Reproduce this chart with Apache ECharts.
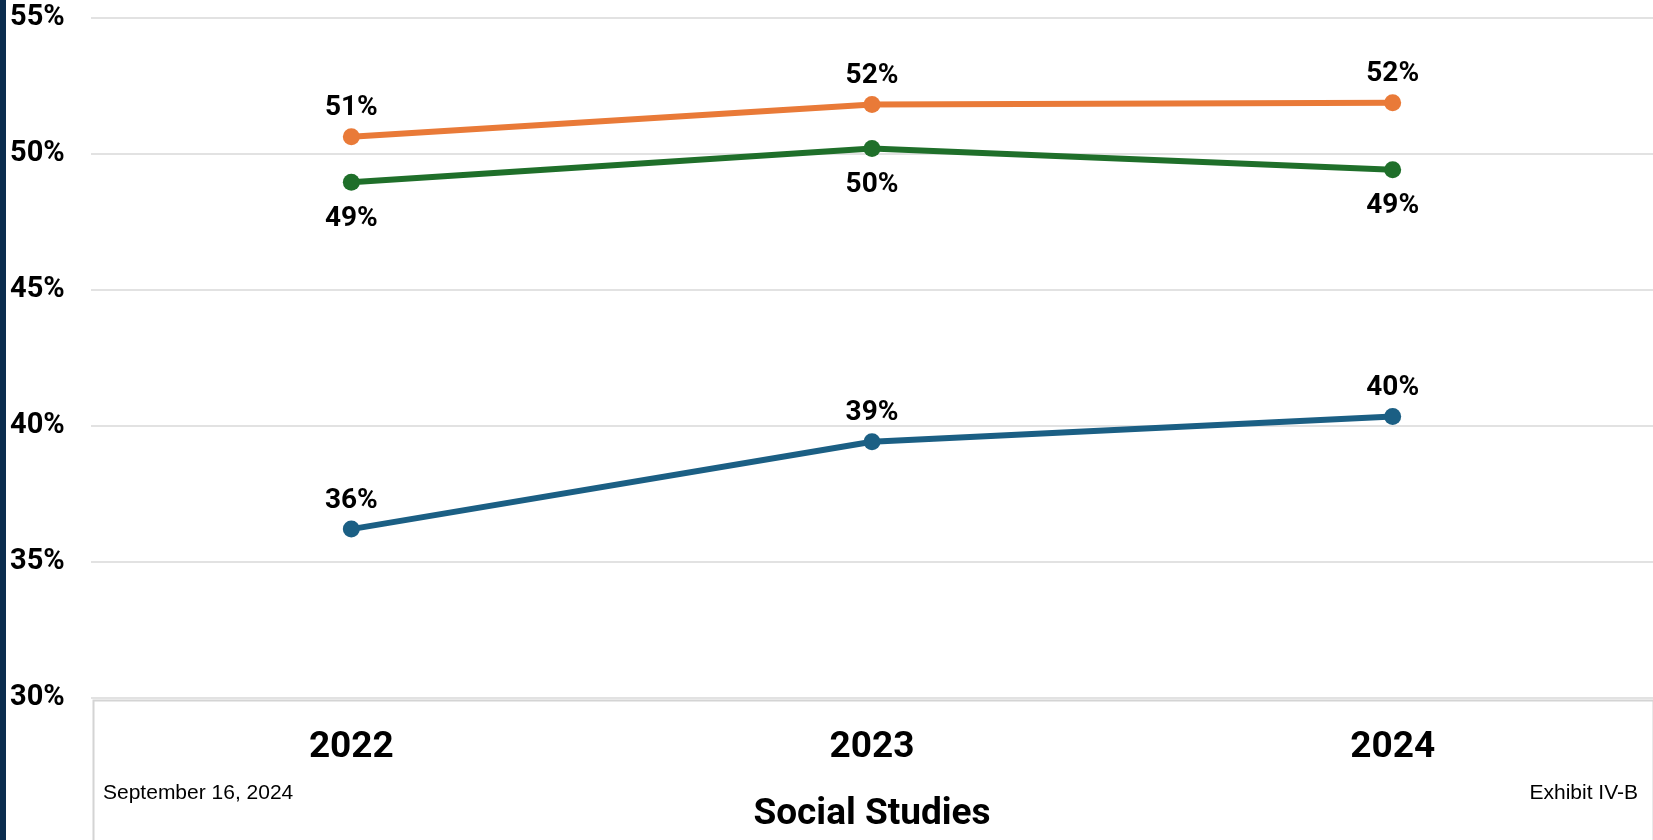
<!DOCTYPE html>
<html>
<head>
<meta charset="utf-8">
<script src="https://cdn.jsdelivr.net/npm/echarts@6/dist/echarts.min.js"></script>
<style>
  html, body { margin: 0; padding: 0; background: #fff; }
  #chart { width: 1653px; height: 840px; }
</style>
</head>
<body>
<div id="chart"></div>
<script>
// 数据
const years = ['2022', '2023', '2024'];
const orangeVals = [50.63, 51.82, 51.88];
const greenVals = [48.96, 50.2, 49.42];
const blueVals = [36.21, 39.42, 40.35];
const yTicks = { min: 30, max: 55, step: 5 };

const pct = (p) => Math.round(p.value) + '%';

// 折线系列
function makeLine(data, color, pos, dist) {
  return {
    type: 'line',
    data: data,
    symbol: 'circle',
    symbolSize: 17,
    lineStyle: { color: color, width: 6 },
    itemStyle: { color: color },
    label: {
      show: true,
      position: pos,
      distance: dist,
      formatter: pct,
      color: '#000',
      fontFamily: 'Roboto',
      fontWeight: 'bold',
      fontSize: 28,
    },
  };
}

const chart = echarts.init(document.getElementById('chart'));
chart.setOption({
  animation: false,
  grid: { left: 91, right: 0, top: 18, bottom: 142 },
  xAxis: {
    type: 'category',
    data: years,
    boundaryGap: true,
    axisLine: { show: false },
    axisTick: { show: false },
    axisLabel: {
      margin: 31,
      color: '#000',
      fontFamily: 'Roboto',
      fontWeight: 'bold',
      fontSize: 37,
    },
    name: 'Social Studies',
    nameLocation: 'middle',
    nameGap: 98,
    nameTextStyle: {
      color: '#000',
      fontFamily: 'Roboto',
      fontWeight: 'bold',
      fontSize: 37,
    },
  },
  yAxis: {
    type: 'value',
    min: yTicks.min,
    max: yTicks.max,
    interval: yTicks.step,
    axisLine: { show: false },
    axisTick: { show: false },
    splitLine: { lineStyle: { color: '#d9d9d9', width: 1.5 } },
    axisLabel: {
      formatter: '{value}%',
      align: 'left',
      margin: 81,
      color: '#000',
      fontFamily: 'Roboto',
      fontWeight: 'bold',
      fontSize: 29,
    },
  },
  series: [
    makeLine(orangeVals, '#E97A38', 'top', 6),
    makeLine(greenVals, '#1F6F2A', 'bottom', 14),
    makeLine(blueVals, '#1B5F84', 'top', 6),
  ],
  graphic: [
    { type: 'rect', left: 0, top: 0, shape: { width: 6, height: 840 }, style: { fill: '#0b2c4e' } },
    {
      type: 'rect', left: 91, top: 698, z: -1,
      shape: { width: 1560, height: 160 },
      style: { fill: 'none', stroke: '#d4d4d4', lineWidth: 2 },
    },
    {
      type: 'text', left: 103, top: 783,
      style: { text: 'September 16, 2024', fill: '#000', font: '21px "Liberation Sans", Arial, sans-serif' },
    },
    {
      type: 'text', right: 15, top: 783,
      style: { text: 'Exhibit IV-B', fill: '#000', font: '21px "Liberation Sans", Arial, sans-serif' },
    },
  ],
});
</script>
</body>
</html>
